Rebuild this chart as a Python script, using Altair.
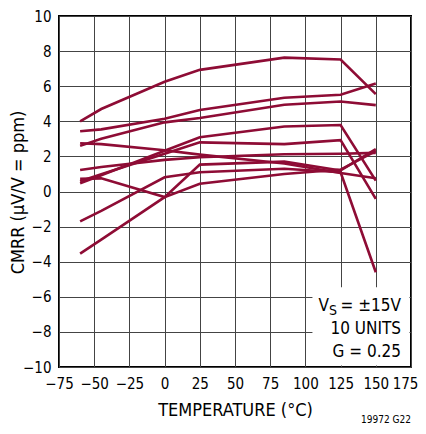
import altair as alt
import pandas as pd

temps = [-60, -45, 0, 25, 85, 125, 150]
unit_1 = [4.0, 4.7, 6.25, 6.93, 7.63, 7.52, 5.55]
unit_2 = [3.43, 3.54, 4.15, 4.64, 5.34, 5.51, 6.15]
unit_3 = [2.6, 3.0, 3.94, 4.19, 4.94, 5.13, 4.92]
unit_4 = [2.75, 2.7, 2.35, 2.1, 1.6, 1.05, 0.76]
unit_5 = [0.47, 0.93, 2.32, 3.09, 3.7, 3.79, 0.62]
unit_6 = [0.59, 0.98, 2.15, 2.8, 2.7, 2.93, -0.42]
unit_7 = [1.23, 1.4, 1.8, 1.95, 2.12, 2.15, 2.2]
unit_8 = [0.72, 0.75, -0.32, 0.44, 1.0, 1.25, 2.3]
unit_9 = [-1.7, -1.1, 0.81, 1.1, 1.3, 1.1, -4.6]
unit_10 = [-3.54, -2.74, -0.32, 1.53, 1.7, 1.2, 2.42]

x_ticks = [-75, -50, -25, 0, 25, 50, 75, 100, 125, 150, 175]
y_ticks = [-10, -8, -6, -4, -2, 0, 2, 4, 6, 8, 10]

series = [unit_1, unit_2, unit_3, unit_4, unit_5, unit_6, unit_7, unit_8, unit_9, unit_10]
rows = []
for i, vals in enumerate(series):
    for t, v in zip(temps, vals):
        rows.append({"unit": f"U{i+1}", "temp": t, "cmrr": v})
df = pd.DataFrame(rows)

FONT = "'DejaVu Sans Condensed', Roboto, sans-serif"
RED = "#8E0C35"

xs = alt.Scale(domain=[-75, 175], nice=False, zero=False)
ys = alt.Scale(domain=[-10, 10], nice=False, zero=False)

x_axis = alt.Axis(values=x_ticks, title="TEMPERATURE  (°C)", grid=True,
                  ticks=False, domain=False, labelPadding=9,
                  labelOverlap=False, labelFlush=False,
                  labelOffset={"condition": {"test": "datum.value == 175", "value": -6},
                               "value": 0},
                  titleY=43, titleBaseline="middle")
y_axis = alt.Axis(values=y_ticks, title="CMRR (μV/V = ppm)", grid=True,
                  ticks=False, domain=False, labelPadding=8,
                  labelOverlap=False, labelFlush=False,
                  titleX=-41, titleY=176, titleAngle=-90,
                  titleAlign="center", titleBaseline="middle")

lines = alt.Chart(df).mark_line(color=RED, strokeWidth=2.6, clip=True).encode(
    x=alt.X("temp:Q", scale=xs, axis=x_axis),
    y=alt.Y("cmrr:Q", scale=ys, axis=y_axis),
    detail="unit:N",
)

box_df = pd.DataFrame({"x": [105], "x2": [173.9], "y": [-5.45], "y2": [-9.92]})
box = alt.Chart(box_df).mark_rect(fill="white").encode(
    x=alt.X("x:Q", scale=xs, axis=x_axis), x2="x2",
    y=alt.Y("y:Q", scale=ys, axis=y_axis), y2="y2"
)

ann_df = pd.DataFrame({
    "t": ["= ±15V", "10 UNITS", "G = 0.25"],
    "x": [167.9, 167.9, 167.9],
    "y": [-6.55, -7.85, -9.15],
})
ann = alt.Chart(ann_df).mark_text(align="right", baseline="middle", font=FONT,
                                  fontSize=17, color="black").encode(
    x=alt.X("x:Q", scale=xs, axis=x_axis), y=alt.Y("y:Q", scale=ys, axis=y_axis), text="t:N"
)
vs_df = pd.DataFrame({"t": ["V"], "x": [167.9], "y": [-6.55]})
v_txt = alt.Chart(vs_df).mark_text(align="right", baseline="middle", font=FONT,
                                   fontSize=17, dx=-72, color="black").encode(
    x=alt.X("x:Q", scale=xs, axis=x_axis), y=alt.Y("y:Q", scale=ys, axis=y_axis), text="t:N"
)
s_df = pd.DataFrame({"t": ["S"], "x": [167.9], "y": [-6.55]})
s_txt = alt.Chart(s_df).mark_text(align="right", baseline="middle", font=FONT,
                                  fontSize=14, dx=-64, dy=5, color="black").encode(
    x=alt.X("x:Q", scale=xs, axis=x_axis), y=alt.Y("y:Q", scale=ys, axis=y_axis), text="t:N"
)

foot_df = pd.DataFrame({"t": ["19972 G22"]})
foot = alt.Chart(foot_df).mark_text(align="right", baseline="middle", font=FONT,
                                    fontSize=10, color="black").encode(
    x=alt.value(352), y=alt.value(404), text="t:N"
)

chart = alt.layer(lines, box, ann, v_txt, s_txt, foot).properties(
    width=352, height=351,
    autosize=alt.AutoSizeParams(type="none"),
    padding={"left": 51, "top": 8, "right": 7, "bottom": 59},
).configure_view(stroke="black", strokeWidth=2).configure_axis(
    labelFont=FONT, labelFontSize=15, labelColor="black",
    titleFont=FONT, titleFontSize=18, titleColor="black", titleFontWeight="normal",
    gridColor="#444", gridWidth=1, gridOpacity=1,
)

chart.save("out.html", embed_options={"renderer": "svg", "actions": False})
